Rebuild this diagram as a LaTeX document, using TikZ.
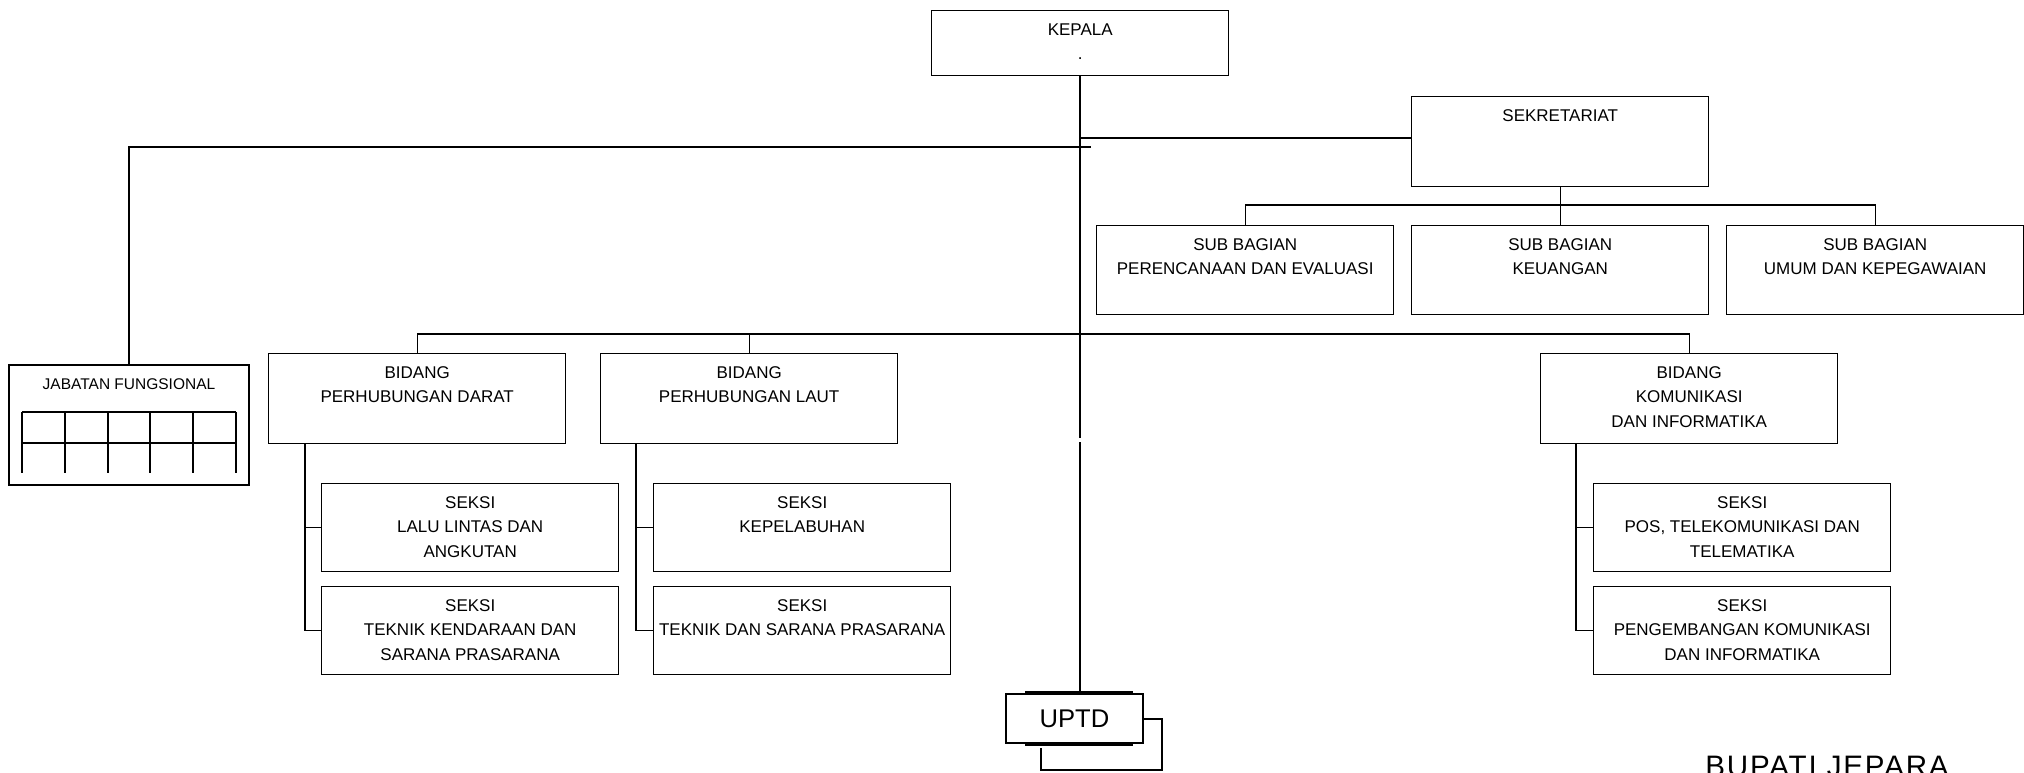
\documentclass[tikz,border=0pt]{standalone}
\usepackage{fontspec}
\setmainfont{Liberation Sans}
\newfontfamily\signfont[LetterSpace=6]{Liberation Sans}
% fixed-size box content, text set from the top
\newcommand{\boxtext}[3]{\parbox[t][#2][t]{#1}{\centering\rule{0pt}{12.2pt}#3}}
\begin{document}
\begin{tikzpicture}[x=0.5pt,y=-0.5pt,
  orgbox/.style={draw, line width=0.7pt, inner sep=0pt, anchor=north west,
                 font=\fontsize{8.5}{12.3}\selectfont},
  link/.style={line width=0.6pt},
  heavy/.style={line width=1pt},
]
\useasboundingbox (0,0) rectangle (2024,772);
\clip (0,0) rectangle (2024,772);

% top level
\node[orgbox] (kepala) at (931,10) {\boxtext{148.5pt}{32.5pt}{KEPALA\\.}};
\node[orgbox] (sekr) at (1411,96) {\boxtext{148.5pt}{45pt}{SEKRETARIAT}};

% sub bagian
\node[orgbox] (sb1) at (1096,225) {\boxtext{148.5pt}{44.5pt}{SUB BAGIAN\\PERENCANAAN DAN EVALUASI}};
\node[orgbox] (sb2) at (1411,225) {\boxtext{148.5pt}{44.5pt}{SUB BAGIAN\\KEUANGAN}};
\node[orgbox] (sb3) at (1726,225) {\boxtext{148.5pt}{44.5pt}{SUB BAGIAN\\UMUM DAN KEPEGAWAIAN}};

% bidang
\node[orgbox] (darat) at (268,353) {\boxtext{148.5pt}{45pt}{BIDANG\\PERHUBUNGAN DARAT}};
\node[orgbox] (laut) at (600,353) {\boxtext{148.5pt}{45pt}{BIDANG\\PERHUBUNGAN LAUT}};
\node[orgbox] (kominfo) at (1540,353) {\boxtext{148.5pt}{45pt}{BIDANG\\KOMUNIKASI\\DAN INFORMATIKA}};

% seksi
\node[orgbox] (ds1) at (321,483) {\boxtext{148.5pt}{44pt}{SEKSI\\LALU LINTAS DAN\\ANGKUTAN}};
\node[orgbox] (ds2) at (321,586) {\boxtext{148.5pt}{44pt}{SEKSI\\TEKNIK KENDARAAN DAN\\SARANA PRASARANA}};
\node[orgbox] (ls1) at (653,483) {\boxtext{148.5pt}{44pt}{SEKSI\\KEPELABUHAN}};
\node[orgbox] (ls2) at (653,586) {\boxtext{148.5pt}{44pt}{SEKSI\\TEKNIK DAN SARANA PRASARANA}};
\node[orgbox] (ks1) at (1593,483) {\boxtext{148.5pt}{44pt}{SEKSI\\POS, TELEKOMUNIKASI DAN\\TELEMATIKA}};
\node[orgbox] (ks2) at (1593,586) {\boxtext{148.5pt}{44pt}{SEKSI\\PENGEMBANGAN KOMUNIKASI\\DAN INFORMATIKA}};

% jabatan fungsional
\node[orgbox, line width=1pt, font=\fontsize{7.75}{10}\selectfont] (jab) at (8,364)
  {\parbox[t][60pt][t]{120pt}{\centering\rule{0pt}{12pt}JABATAN FUNGSIONAL}};
\draw[heavy] (22,412) -- (236,412) (22,443) -- (236,443);
\foreach \gx in {22,64.8,107.6,150.4,193.2,236}
  \draw[heavy] (\gx,412) -- (\gx,473);

% UPTD
\node[draw, line width=0.7pt, minimum width=68.5pt, minimum height=24.5pt, inner sep=0pt,
      font=\fontsize{12.8}{14}\selectfont] (uptd) at (1074.5,718.5) {UPTD};
\draw[heavy] (1025,692) -- (1133,692) (1025,745) -- (1133,745);
\draw[heavy] (uptd.east) -- ++(18,0) |- (1041,770) -- (1041,748);

% main spine
\coordinate (gapA) at (0,438);
\coordinate (gapB) at (0,442);
\draw[heavy] (kepala.south) -- (kepala.south |- gapA);
\draw[heavy] (kepala.south |- gapB) -- (kepala.south |- uptd.north);

% sekretariat
\coordinate (sekrY) at (0,138);
\draw[link] (kepala.south |- sekrY) -- (sekr.west |- sekrY);

% jabatan fungsional
\coordinate (jabEnd) at (1091,147);
\draw[heavy] (jab.north) |- (jabEnd);

% sub bagian
\coordinate (sbY) at (0,205);
\draw[link] (sekr.south) -- (sb2.north);
\draw[link] (sb1.north) |- (sb3.north |- sbY) -- (sb3.north);

% bidang
\coordinate (bdY) at (0,334);
\draw[link] (darat.north) |- (kominfo.north |- bdY) -- (kominfo.north);
\draw[link] (laut.north) -- (laut.north |- bdY);

% seksi branches
\coordinate (dsp) at ([xshift=18.5pt]darat.south west);
\coordinate (lsp) at ([xshift=18pt]laut.south west);
\coordinate (ksp) at ([xshift=18pt]kominfo.south west);
\draw[link] (dsp) |- (ds2.west) (ds1.west) -- (ds1.west -| dsp);
\draw[link] (lsp) |- (ls2.west) (ls1.west) -- (ls1.west -| lsp);
\draw[link] (ksp) |- (ks2.west) (ks1.west) -- (ks1.west -| ksp);

% signature line
\node[anchor=base west, inner sep=0pt, font=\signfont\fontsize{14.8}{16}\selectfont] (bupati) at (1705,776) {BUPATI JEPARA};
\end{tikzpicture}
\end{document}
